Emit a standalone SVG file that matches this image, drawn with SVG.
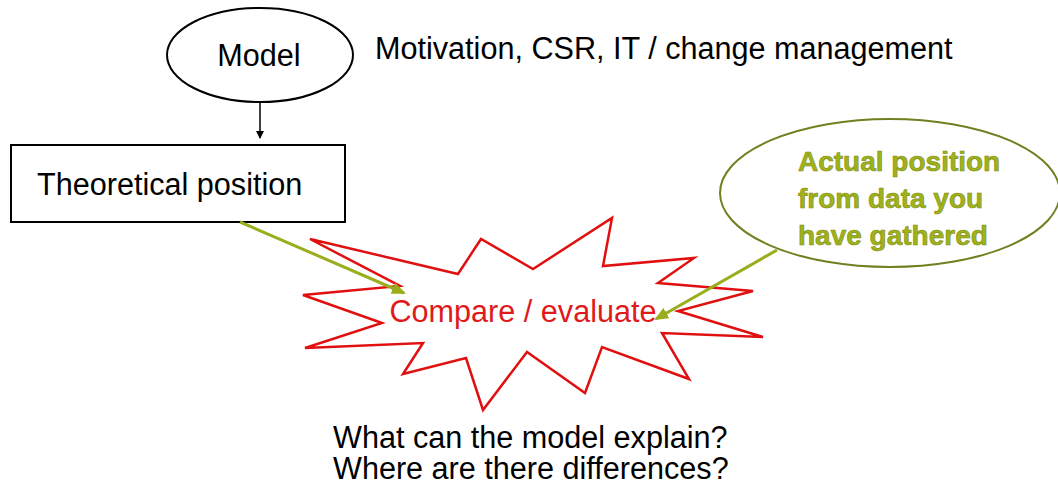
<svg xmlns="http://www.w3.org/2000/svg" width="1058" height="490" viewBox="0 0 1058 490">
<style>
.t{font-family:"Liberation Sans",Arial,sans-serif;font-size:30.6px;fill:#000}
.g{font-family:"Liberation Sans",Arial,sans-serif;font-size:28px;font-weight:bold;fill:#9fb21a;stroke:#7d8d12;stroke-width:0.6}
.r{font-family:"Liberation Sans",Arial,sans-serif;font-size:30.6px;fill:#e01a1a}
.ga{stroke:#9aad1c;stroke-width:3;fill:none}
</style>
<defs>
<marker id="ah" markerWidth="8" markerHeight="8" refX="7" refY="4" orient="auto" markerUnits="userSpaceOnUse">
<path d="M0,0 L8,4 L0,8 z" fill="#000"/>
</marker>
<marker id="gh" markerWidth="14" markerHeight="12" refX="12" refY="6" orient="auto" markerUnits="userSpaceOnUse">
<path d="M0,0 L14,6 L0,12 z" fill="#9aad1c"/>
</marker>
</defs>
<rect width="1058" height="490" fill="#fff"/>
<g id="model">
<ellipse cx="260" cy="55" rx="93" ry="47" fill="#fff" stroke="#000" stroke-width="2"/>
<text class="t" x="259" y="66" text-anchor="middle">Model</text>
</g>
<g id="topics">
<text class="t" x="375" y="59">Motivation, CSR, IT / change management</text>
</g>
<g id="theoretical">
<rect x="11" y="145" width="334" height="77" fill="#fff" stroke="#000" stroke-width="2"/>
<text class="t" x="37" y="195">Theoretical position</text>
</g>
<g id="actual">
<ellipse cx="890" cy="193" rx="170" ry="74" fill="#fff" stroke="#6f8020" stroke-width="2"/>
<text class="g" x="798" y="171">Actual position</text>
<text class="g" x="798" y="208">from data you</text>
<text class="g" x="798" y="245">have gathered</text>
</g>
<g id="compare">
<polygon points="310,239 458,274 481,239 533,269 612,218 603,266 694,258 658,283 753,291 678,311 763,337 662,333 689,379 602,347 585,393 527,352 483,410 466,358 403,374 423,343 305,348 382,323 303,295 400,286" fill="#fff" stroke="#e01010" stroke-width="2.5" stroke-linejoin="miter"/>
<text class="r" x="523" y="322" text-anchor="middle">Compare / evaluate</text>
</g>
<g id="questions">
<text class="t" x="333" y="448">What can the model explain?</text>
<text class="t" x="333" y="479">Where are there differences?</text>
</g>
<g id="connectors">
<line x1="260" y1="102" x2="260" y2="138" stroke="#000" stroke-width="1.5" marker-end="url(#ah)"/>
<line class="ga" x1="240" y1="222" x2="404" y2="293" marker-end="url(#gh)"/>
<line class="ga" x1="777" y1="250" x2="656" y2="319" marker-end="url(#gh)"/>
</g>
</svg>
